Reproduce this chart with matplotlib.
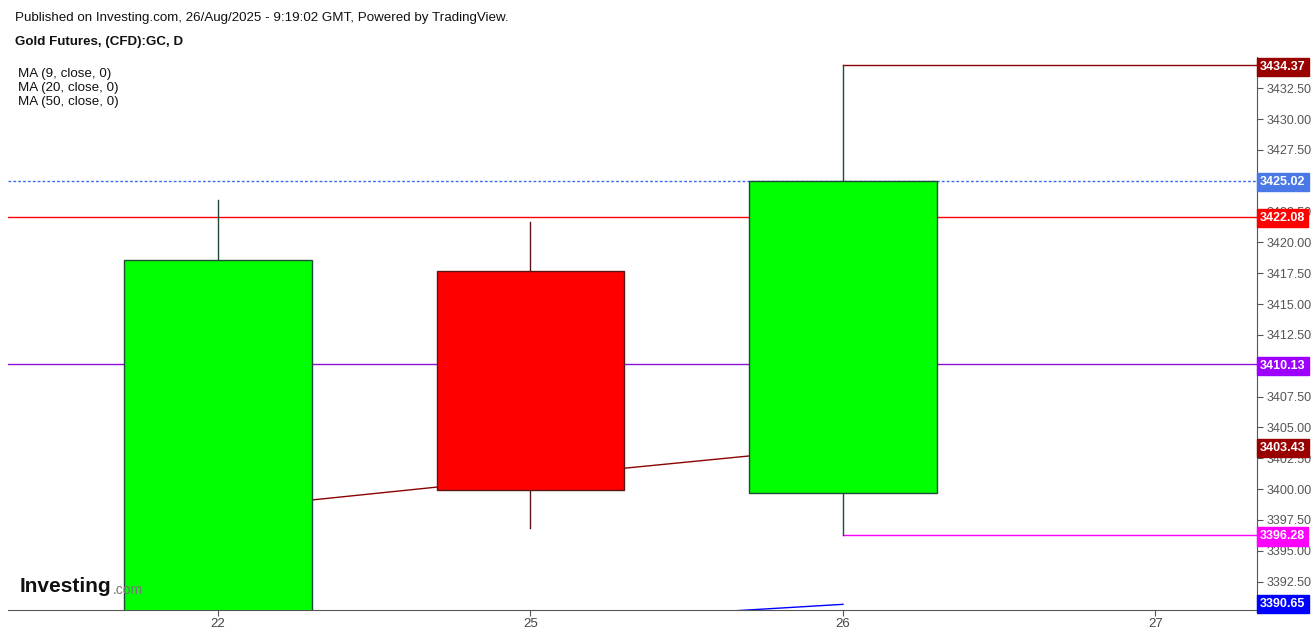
import numpy as np
from matplotlib import pyplot as plt
from matplotlib.patches import Rectangle

# candles (Aug 22, 25, 26)
days = ['22', '25', '26', '27']
opens = [3384.0, 3417.68, 3399.67]
highs = [3423.44, 3421.66, 3434.37]
lows = [3374.0, 3396.84, 3396.28]
closes = [3418.57, 3399.92, 3425.02]

# moving averages
ma9 = [3398.33, 3400.94, 3403.43]
ma20 = [3387.0, 3389.14, 3390.65]

# price levels shown on the right axis
last_price = 3425.02
red_level = 3422.08
purple_level = 3410.13
y_ticks = np.arange(3392.5, 3433.0, 2.5)
hidden_ticks = [3425.0, 3410.0]   # fully covered by the price tags

plt.rcParams['font.family'] = ['Liberation Sans', 'DejaVu Sans']

fig = plt.figure(figsize=(13.16, 6.34), dpi=100)
ax = fig.add_axes([8/1316, 24/634, 1249/1316, 553/634])
ax.set_xlim(-0.672, 3.325)
ax.set_ylim(3390.19, 3435.04)

# moving average lines (behind candles)
x = np.arange(len(closes))
ax.plot(x, ma9, color='#8b0000', lw=1, zorder=1)
ax.plot(x, ma20, color='#0000ff', lw=1, zorder=1)

# horizontal levels
ax.axhline(last_price, color='#3a6cf0', lw=1, ls=(0, (2, 1.5)), zorder=1)
ax.axhline(red_level, color='#ff0000', lw=1, zorder=1)
ax.axhline(purple_level, color='#8a10d8', lw=1, zorder=1)
ax.plot([2, 3.325], [highs[2], highs[2]], color='#8b0000', lw=1, zorder=1)
ax.plot([2, 3.325], [lows[2], lows[2]], color='#ff00ff', lw=1, zorder=1)

# candles
w = 0.6
for i in range(len(closes)):
    up = closes[i] >= opens[i]
    face = '#00ff00' if up else '#ff0000'
    edge = '#224a38' if up else '#5a1515'
    ax.plot([i, i], [lows[i], highs[i]], color=edge, lw=1, zorder=2)
    lo = min(opens[i], closes[i])
    ax.add_patch(Rectangle((i - w/2, lo), w, abs(closes[i] - opens[i]),
                           facecolor=face, edgecolor=edge, lw=1, zorder=3))

# axes styling
for s in ['top', 'left']:
    ax.spines[s].set_visible(False)
ax.spines['right'].set_color('#555555')
ax.spines['bottom'].set_color('#555555')
ax.yaxis.tick_right()
ax.set_yticks(y_ticks)
ax.set_yticklabels(['' if round(v, 2) in hidden_ticks else '%.2f' % v for v in y_ticks])
ax.set_xticks(range(len(days)))
ax.set_xticklabels(days)
ax.tick_params(axis='y', colors='#555555', labelsize=9, length=4, pad=3)
ax.tick_params(axis='x', colors='#555555', labelcolor='#444444', labelsize=9.5, length=4, pad=2)

# right side price tags
tags = [
    (highs[2], '#990000'),
    (last_price, '#4a78e6'),
    (red_level, '#ff0000'),
    (purple_level, '#9d00ff'),
    (ma9[2], '#990000'),
    (lows[2], '#ff00ff'),
    (ma20[2], '#0000ff'),
]
for val, col in tags:
    yv = max(val, 3390.19 + 0.6)
    ax.text(1.0025, yv, '%.2f' % val, transform=ax.get_yaxis_transform(),
            ha='left', va='center_baseline', color='white', fontsize=9, fontweight='bold',
            bbox=dict(boxstyle='square,pad=0.25', facecolor=col, edgecolor=col),
            zorder=10, clip_on=False)

# header
fig.text(15/1316, 1 - 18.5/634, 'Published on Investing.com, 26/Aug/2025 - 9:19:02 GMT, Powered by TradingView.',
         fontsize=9.6, va='center', color='#111111')
fig.text(15/1316, 1 - 41.5/634, 'Gold Futures, (CFD):GC, D', fontsize=9.6, fontweight='bold',
         va='center', color='#111111')
for k, t in enumerate(['MA (9, close, 0)', 'MA (20, close, 0)', 'MA (50, close, 0)']):
    fig.text(18/1316, 1 - (74.5 + 13.5*k)/634, t, fontsize=9.6, va='center', color='#111111')

# logo
fig.text(20/1316, 1 - 587/634, 'Investing', fontsize=15, fontweight='bold', va='center',
         color='#111111', zorder=20)
fig.text(113/1316, 1 - 590/634, '.com', fontsize=10, va='center', color='#777777', zorder=20)

plt.savefig('out.png', dpi=100)
